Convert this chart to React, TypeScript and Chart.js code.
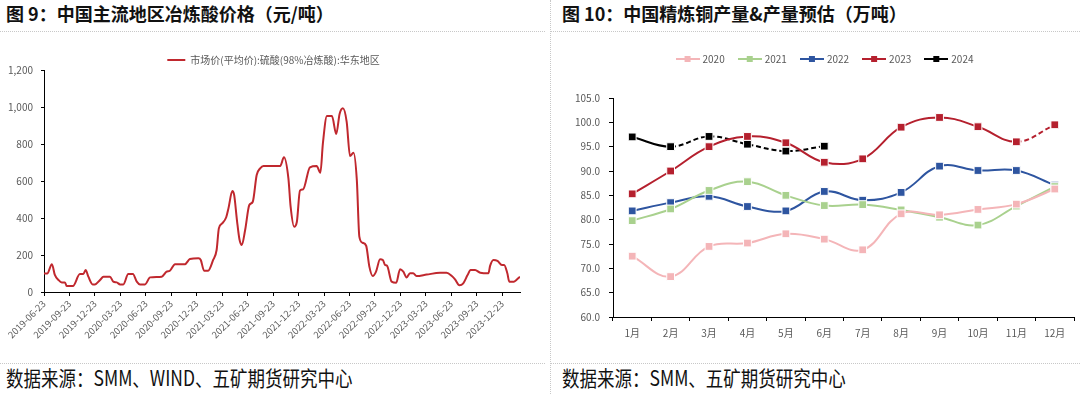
import React, { useEffect, useRef } from 'react';
import { Chart, registerables } from 'chart.js';

Chart.register(...registerables);

const FONT = '"Noto Sans CJK SC", "Noto Sans", sans-serif';

// ---------- Left chart: 冶炼酸价格 ----------
const acidSeriesName = '市场价(平均价):硫酸(98%冶炼酸):华东地区';
const acidDates = [
  '2019-06-23', '2019-07-04', '2019-07-21', '2019-08-01', '2019-08-14', '2019-08-26', '2019-09-07', '2019-09-13',
  '2019-10-05', '2019-10-30', '2019-11-12', '2019-11-20', '2019-11-30', '2019-12-15', '2019-12-23', '2020-01-11',
  '2020-01-23', '2020-02-16', '2020-02-28', '2020-03-10', '2020-03-22', '2020-04-03', '2020-04-21', '2020-05-07',
  '2020-05-21', '2020-06-02', '2020-06-20', '2020-07-08', '2020-08-19', '2020-09-06', '2020-09-18', '2020-10-06',
  '2020-11-11', '2020-11-29', '2020-12-29', '2021-01-07', '2021-01-19', '2021-02-03', '2021-02-21', '2021-03-03',
  '2021-03-11', '2021-03-23', '2021-04-07', '2021-04-15', '2021-04-29', '2021-05-05', '2021-05-15', '2021-05-24',
  '2021-06-02', '2021-06-14', '2021-06-29', '2021-07-11', '2021-07-25', '2021-08-07', '2021-08-19', '2021-10-18',
  '2021-11-01', '2021-11-17', '2021-11-25', '2021-12-07', '2021-12-17', '2021-12-28', '2022-01-09', '2022-02-03',
  '2022-02-27', '2022-03-10', '2022-03-19', '2022-04-03', '2022-04-21', '2022-05-06', '2022-05-18', '2022-05-30',
  '2022-06-13', '2022-06-25', '2022-07-07', '2022-07-19', '2022-07-28', '2022-08-09', '2022-08-22', '2022-09-03',
  '2022-09-15', '2022-09-27', '2022-10-11', '2022-10-21', '2022-10-29', '2022-11-06', '2022-11-22', '2022-12-08',
  '2022-12-22', '2023-01-03', '2023-01-15', '2023-01-27', '2023-02-08', '2023-02-20', '2023-03-26', '2023-05-13',
  '2023-06-06', '2023-06-25', '2023-07-06', '2023-07-22', '2023-08-05', '2023-08-20', '2023-09-01', '2023-09-17',
  '2023-10-05', '2023-11-04', '2023-11-10', '2023-11-22', '2023-12-06', '2023-12-22', '2023-12-30', '2024-01-11',
  '2024-01-18', '2024-02-04', '2024-02-13', '2024-02-26',
];
const acidPrices = [
  100, 100, 150, 92, 65, 52, 52, 32,
  32, 97, 97, 119, 83, 41, 41, 65,
  83, 83, 56, 52, 41, 41, 97, 97,
  56, 41, 41, 79, 83, 110, 115, 150,
  150, 178, 182, 173, 115, 115, 173, 227,
  344, 371, 404, 452, 546, 525, 389, 285,
  254, 335, 470, 488, 632, 668, 681, 681,
  728, 614, 461, 353, 380, 548, 555, 674,
  681, 645, 803, 951, 951, 854, 962, 993,
  920, 735, 753, 605, 299, 266, 250, 137,
  86, 110, 177, 173, 146, 141, 56, 50,
  123, 110, 79, 101, 101, 86, 94, 104,
  104, 86, 68, 36, 47, 90, 119, 119,
  104, 101, 141, 173, 168, 146, 146, 101,
  56, 56, 65, 83,
];
const acidTickLabels = [
  '2019-06-23', '2019-09-23', '2019-12-23', '2020-03-23', '2020-06-23', '2020-09-23', '2020-12-23',
  '2021-03-23', '2021-06-23', '2021-09-23', '2021-12-23', '2022-03-23', '2022-06-23', '2022-09-23',
  '2022-12-23', '2023-03-23', '2023-06-23', '2023-09-23', '2023-12-23',
];

// ---------- Right chart: 精炼铜产量 ----------
const months = ['1月', '2月', '3月', '4月', '5月', '6月', '7月', '8月', '9月', '10月', '11月', '12月'];
const years = ['2020', '2021', '2022', '2023', '2024'];
const output2020 = [72.5, 68.3, 74.5, 75.2, 77.1, 76.0, 73.8, 81.2, 81.0, 82.1, 83.2, 86.3];
const output2021 = [79.8, 82.2, 86.0, 87.8, 85.0, 82.9, 83.1, 82.0, 80.5, 78.9, 82.8, 86.8];
const output2022 = [81.8, 83.5, 84.8, 82.7, 81.8, 85.8, 84.0, 85.6, 91.0, 90.1, 90.1, 87.1];
const output2023 = [85.3, 90.0, 95.0, 97.1, 95.8, 91.8, 92.5, 99.0, 101.0, 99.1, 96.0, 99.5];
const output2024 = [97.0, 95.0, 97.1, 95.5, 94.1, 95.1];
const outputSeries = [output2020, output2021, output2022, output2023, output2024];
const dashFromIndex = [99, 99, 99, 10, 1]; // estimate segments drawn dashed from this point index

const yearColors = ['#F4B5B8', '#A9D18E', '#2E55A0', '#B5202E', '#000000'];
const acidColor = '#C0282E';
const axisColor = '#000000';
const textColor = '#595959';

function toMonth(d: string): number {
  const [Y, M, D] = d.split('-').map(Number);
  return (Y - 2019) * 12 + (M - 6) + (D - 23) / 30.5;
}

function makeLegendIcon(color: string) {
  const c = document.createElement('canvas');
  c.width = 24;
  c.height = 10;
  const g = c.getContext('2d')!;
  g.strokeStyle = color;
  g.lineWidth = 2;
  g.beginPath();
  g.moveTo(0, 5);
  g.lineTo(24, 5);
  g.stroke();
  g.fillStyle = color;
  g.fillRect(9, 2, 6, 6);
  return c;
}

// invisible right-hand spacer axis (keeps the legend centred like the original)
function spacerAxis(width: number) {
  return {
    type: 'linear',
    position: 'right',
    display: true,
    afterFit: (s: any) => {
      s.width = width;
    },
    ticks: { display: false },
    grid: { display: false },
    border: { display: false },
  };
}

function AcidChart() {
  const ref = useRef<HTMLCanvasElement>(null);
  useEffect(() => {
    const pts = acidDates.map((d, i) => ({ x: toMonth(d), y: acidPrices[i] }));
    const tickVals = acidTickLabels.map(toMonth);
    const chart = new Chart(ref.current!, {
      type: 'line',
      data: {
        datasets: [
          {
            label: acidSeriesName,
            data: pts,
            borderColor: acidColor,
            backgroundColor: acidColor,
            borderWidth: 2,
            pointRadius: 0,
            cubicInterpolationMode: 'monotone',
            fill: false,
          } as any,
        ],
      },
      options: {
        responsive: false,
        maintainAspectRatio: false,
        animation: false,
        layout: { padding: { left: 0, right: 0, top: 9, bottom: 0 } },
        plugins: {
          legend: {
            position: 'top',
            align: 'center',
            maxHeight: 25,
            labels: {
              usePointStyle: true,
              pointStyle: 'line',
              pointStyleWidth: 18,
              boxHeight: 10,
              padding: 10,
              color: textColor,
              font: { family: FONT, size: 10 },
            },
          } as any,
          tooltip: { enabled: false },
        },
        scales: {
          x: {
            type: 'linear',
            min: 0,
            max: toMonth(acidDates[acidDates.length - 1]),
            afterBuildTicks: (s: any) => {
              s.ticks = tickVals.map((v) => ({ value: v }));
            },
            afterFit: (s: any) => {
              s.height = 70;
            },
            ticks: {
              autoSkip: false,
              minRotation: 45,
              maxRotation: 45,
              padding: 2,
              color: textColor,
              font: { family: FONT, size: 9.5 },
              callback: (v: any) => {
                const i = tickVals.findIndex((t) => Math.abs(t - Number(v)) < 0.01);
                return i >= 0 ? acidTickLabels[i] : '';
              },
            },
            grid: { display: true, drawOnChartArea: false, drawTicks: true, tickLength: 4, tickColor: axisColor },
            border: { display: true, color: axisColor, width: 1 },
          },
          y: {
            min: 0,
            max: 1200,
            afterFit: (s: any) => {
              s.width = 44;
            },
            ticks: {
              stepSize: 200,
              padding: 8,
              color: textColor,
              font: { family: FONT, size: 10 },
              callback: (v: any) => Number(v).toLocaleString('en-US'),
            },
            grid: { display: true, drawOnChartArea: false, drawTicks: true, tickLength: 3, tickColor: axisColor },
            border: { display: true, color: axisColor, width: 1 },
          },
          spacer: spacerAxis(27),
        },
      } as any,
    });
    return () => chart.destroy();
  }, []);
  return (
    <canvas
      ref={ref}
      width={547}
      height={326}
      style={{ position: 'absolute', left: 0, top: 36, width: 547, height: 326 }}
    />
  );
}

function OutputChart() {
  const ref = useRef<HTMLCanvasElement>(null);
  useEffect(() => {
    const icons = yearColors.map(makeLegendIcon);
    const datasets = years.map((y, i) => ({
      label: y,
      data: outputSeries[i],
      borderColor: yearColors[i],
      backgroundColor: yearColors[i],
      pointBackgroundColor: yearColors[i],
      pointBorderColor: '#ffffff',
      pointBorderWidth: 1,
      pointStyle: 'rect',
      pointRadius: 5.5,
      borderWidth: 2,
      tension: 0.4,
      fill: false,
      yAxisID: 'y',
      segment: {
        borderDash: (ctx: any) => (ctx.p0DataIndex >= dashFromIndex[i] ? [5, 3] : undefined),
      },
    }));
    const chart = new Chart(ref.current!, {
      type: 'line',
      data: { labels: months, datasets: datasets as any },
      options: {
        responsive: false,
        maintainAspectRatio: false,
        animation: false,
        layout: { padding: { left: 0, right: 0, top: 3, bottom: 0 } },
        plugins: {
          legend: {
            position: 'top',
            align: 'center',
            labels: {
              usePointStyle: true,
              pointStyleWidth: 20,
              boxHeight: 10,
              padding: 15,
              color: textColor,
              font: { family: FONT, size: 10 },
              generateLabels: (c: any) =>
                (Chart.defaults.plugins.legend.labels.generateLabels as any)(c).map((it: any, i: number) => ({
                  ...it,
                  pointStyle: icons[i],
                })),
            },
          } as any,
          title: {
            display: true,
            text: '',
            weight: 500,
            padding: 0,
            font: { size: 24, lineHeight: 1 },
          } as any,
          tooltip: { enabled: false },
        },
        scales: {
          x: {
            type: 'category',
            offset: true,
            afterFit: (s: any) => {
              s.height = 45;
            },
            ticks: {
              autoSkip: false,
              maxRotation: 0,
              padding: 6,
              color: textColor,
              font: { family: FONT, size: 10 },
            },
            grid: {
              display: true,
              offset: true,
              drawOnChartArea: false,
              drawTicks: true,
              tickLength: 4,
              tickColor: axisColor,
            },
            border: { display: true, color: axisColor, width: 1 },
          },
          y: {
            min: 60,
            max: 105,
            afterFit: (s: any) => {
              s.width = 63;
            },
            ticks: {
              stepSize: 5,
              padding: 9,
              color: textColor,
              font: { family: FONT, size: 10 },
              callback: (v: any) => Number(v).toFixed(1),
            },
            grid: { display: true, drawOnChartArea: false, drawTicks: true, tickLength: 4, tickColor: axisColor },
            border: { display: true, color: axisColor, width: 1 },
          },
          spacer: spacerAxis(27),
        },
      } as any,
    });
    return () => chart.destroy();
  }, []);
  return (
    <canvas
      ref={ref}
      width={551}
      height={326}
      style={{ position: 'absolute', left: 550, top: 36, width: 551, height: 326 }}
    />
  );
}

const titleStyle: React.CSSProperties = {
  position: 'absolute',
  top: 4,
  fontSize: 18,
  lineHeight: '18px',
  fontWeight: 700,
  color: '#111',
  whiteSpace: 'nowrap',
  fontFamily: FONT,
};

const footerStyle: React.CSSProperties = {
  position: 'absolute',
  top: 369,
  fontSize: 17.5,
  lineHeight: '17px',
  fontWeight: 400,
  color: '#111',
  whiteSpace: 'nowrap',
  fontFamily: FONT,
  transform: 'scaleY(1.2)',
  transformOrigin: 'center center',
};

const dotted = '1px dotted #c8c8c8';

export default function App() {
  return (
    <div
      style={{
        position: 'fixed',
        left: 0,
        top: 0,
        width: 1080,
        height: 394,
        background: '#ffffff',
        overflow: 'hidden',
      }}
    >
      <div style={{ ...titleStyle, left: 6 }}>图 9：中国主流地区冶炼酸价格（元/吨）</div>
      <div style={{ ...titleStyle, left: 562 }}>图 10：中国精炼铜产量&产量预估（万吨）</div>
      <div style={{ position: 'absolute', left: 0, top: 31, width: 545, borderTop: dotted }} />
      <div style={{ position: 'absolute', left: 550, top: 31, width: 530, borderTop: dotted }} />
      <div style={{ position: 'absolute', left: 0, top: 363, width: 545, borderTop: dotted }} />
      <div style={{ position: 'absolute', left: 550, top: 363, width: 530, borderTop: dotted }} />
      <AcidChart />
      <OutputChart />
      <div style={{ position: 'absolute', left: 550, top: 0, height: 394, borderLeft: dotted }} />
      <div style={{ ...footerStyle, left: 6 }}>数据来源：SMM、WIND、五矿期货研究中心</div>
      <div style={{ ...footerStyle, left: 562 }}>数据来源：SMM、五矿期货研究中心</div>
    </div>
  );
}
